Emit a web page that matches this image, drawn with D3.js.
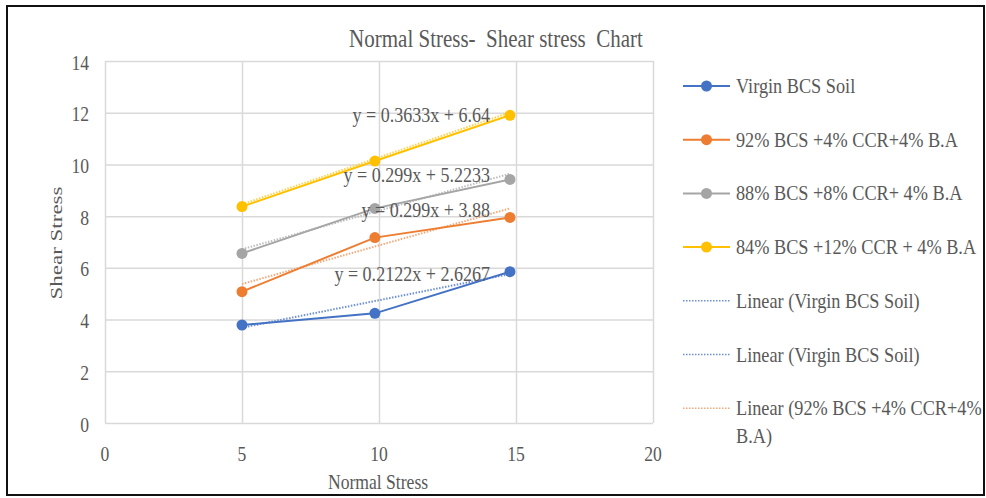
<!DOCTYPE html>
<html>
<head>
<meta charset="utf-8">
<script src="https://cdn.jsdelivr.net/npm/d3@7"></script>
<style>
  html, body { margin: 0; padding: 0; background: #fff; }
  svg { display: block; }
  text { white-space: pre; }
</style>
</head>
<body>
<svg id="chart" width="986" height="498"></svg>
<script>
// ---- data ----
const normalStress = [5, 9.85, 14.78];
const virginBCS = [3.79, 4.24, 5.85];
const mix92 = [5.08, 7.17, 7.95];
const mix88 = [6.56, 8.3, 9.42];
const mix84 = [8.37, 10.13, 11.9];

const seriesNames = [
  "Virgin BCS Soil",
  "92% BCS +4% CCR+4% B.A",
  "88% BCS +8% CCR+ 4% B.A",
  "84% BCS +12% CCR + 4% B.A"
];
const trendSlopes = [0.2122, 0.299, 0.299, 0.3633];
const trendIntercepts = [2.6267, 3.88, 5.2233, 6.64];
const trendLabels = [
  "y = 0.2122x + 2.6267",
  "y = 0.299x + 3.88",
  "y = 0.299x + 5.2233",
  "y = 0.3633x + 6.64"
];
const trendLegend = [
  "Linear (Virgin BCS Soil)",
  "Linear (Virgin BCS Soil)",
  ["Linear (92% BCS +4% CCR+4%", "B.A)"]
];
const xTicks = [0, 5, 10, 15, 20];
const yTicks = [0, 2, 4, 6, 8, 10, 12, 14];

const titleText = "Normal Stress-  Shear stress  Chart";
const xTitle = "Normal Stress";
const yTitle = "Shear Stress";

// ---- styling ----
const colors = ["#4472C4", "#ED7D31", "#A5A5A5", "#FFC000"];
const trendColors = ["#6d8fd3", "#f4a878", "#bdbdbd", "#ffd24d"];
const textColor = "#595959";
const FONT = "'Liberation Serif', 'Times New Roman', serif";

const svg = d3.select("#chart");
const plot = { left: 105, right: 653, top: 61, bottom: 423 };

const x = d3.scaleLinear().domain([0, 20]).range([plot.left, plot.right]);
const y = d3.scaleLinear().domain([0, 14]).range([plot.bottom, plot.top]);

// text squeezed horizontally on screen (narrow serif look)
function label(parent, px, py, text, size, anchor, sx, rotate) {
  const g = parent.append("g")
    .attr("transform", `translate(${px},${py}) scale(${sx},1)` + (rotate ? ` rotate(${rotate})` : ""));
  g.append("text")
    .attr("font-family", FONT)
    .attr("font-size", size)
    .attr("fill", textColor)
    .attr("text-anchor", anchor || "start")
    .text(text);
  return g;
}

// outer frame
svg.append("rect")
  .attr("x", 7).attr("y", 6).attr("width", 977).attr("height", 489)
  .attr("fill", "#fff").attr("stroke", "#111").attr("stroke-width", 2);

// gridlines via axes
svg.append("g")
  .attr("transform", `translate(0,${plot.bottom})`)
  .call(d3.axisBottom(x).tickValues(xTicks).tickSize(-(plot.bottom - plot.top)).tickFormat(""))
  .call(g => g.select(".domain").remove())
  .call(g => g.selectAll("line").attr("stroke", "#d9d9d9").attr("stroke-width", 1.5));

svg.append("g")
  .attr("transform", `translate(${plot.left},0)`)
  .call(d3.axisLeft(y).tickValues(yTicks).tickSize(-(plot.right - plot.left)).tickFormat(""))
  .call(g => g.select(".domain").remove())
  .call(g => g.selectAll("line").attr("stroke", "#d9d9d9").attr("stroke-width", 1.5));

// tick labels
xTicks.forEach(t => label(svg, x(t), 461, String(t), 22, "middle", 0.8));
yTicks.forEach(t => label(svg, 89, y(t) + 8.5, String(t), 22, "end", 0.8));

// titles
label(svg, 496, 47, titleText, 25, "middle", 0.84);
label(svg, 378, 489, xTitle, 22, "middle", 0.8);
label(svg, 62, 243, yTitle, 23, "middle", 0.75, -90);

// trendlines (from fitted equations)
const allSeries = [virginBCS, mix92, mix88, mix84];
const xMin = d3.min(normalStress), xMax = d3.max(normalStress);
const trendG = svg.append("g");
allSeries.forEach((s, i) => {
  trendG.append("line")
    .attr("x1", x(xMin)).attr("y1", y(trendSlopes[i] * xMin + trendIntercepts[i]))
    .attr("x2", x(xMax)).attr("y2", y(trendSlopes[i] * xMax + trendIntercepts[i]))
    .attr("stroke", trendColors[i]).attr("stroke-width", 2)
    .attr("stroke-dasharray", "1.5,1.5");
});

// series lines and markers
const line = d3.line().x(d => x(d[0])).y(d => y(d[1]));
allSeries.forEach((s, i) => {
  const pts = normalStress.map((xv, j) => [xv, s[j]]);
  svg.append("path").datum(pts)
    .attr("d", line).attr("fill", "none")
    .attr("stroke", colors[i]).attr("stroke-width", 2);
  svg.append("g").selectAll("circle").data(pts).join("circle")
    .attr("cx", d => x(d[0])).attr("cy", d => y(d[1])).attr("r", 5.5)
    .attr("fill", colors[i]);
});

// trendline equation labels
const eqBaselines = [281, 217, 182, 122];
trendLabels.forEach((t, i) => label(svg, 490, eqBaselines[i], t, 22, "end", 0.82));

// legend
const lgX1 = 683, lgX2 = 730, lgText = 736, lgY0 = 86, lgStep = 53.7;
seriesNames.forEach((name, i) => {
  const cy = lgY0 + i * lgStep;
  svg.append("line").attr("x1", lgX1).attr("x2", lgX2).attr("y1", cy).attr("y2", cy)
    .attr("stroke", colors[i]).attr("stroke-width", 2);
  svg.append("circle").attr("cx", (lgX1 + lgX2) / 2).attr("cy", cy).attr("r", 5.5).attr("fill", colors[i]);
  label(svg, lgText, cy + 7, name, 22, "start", 0.83);
});
trendLegend.forEach((name, k) => {
  const i = k + 4;
  const cy = lgY0 + i * lgStep;
  const ci = k < 2 ? 0 : 1;
  svg.append("line").attr("x1", lgX1).attr("x2", lgX2).attr("y1", cy).attr("y2", cy)
    .attr("stroke", trendColors[ci]).attr("stroke-width", 1.5).attr("stroke-dasharray", "1.5,1.5");
  const lines = Array.isArray(name) ? name : [name];
  lines.forEach((ln, r) => label(svg, lgText, cy + 7 + r * 28, ln, 22, "start", 0.83));
});
</script>
</body>
</html>
